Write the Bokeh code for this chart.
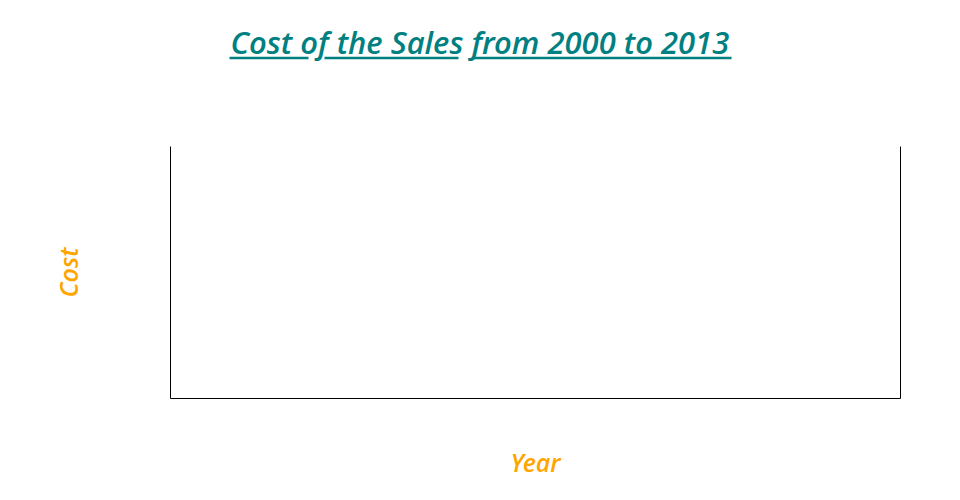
from bokeh.plotting import figure
from bokeh.models import LinearAxis, FixedTicker, ColumnDataSource, Range1d
from bokeh.core.properties import value
from bokeh.layouts import column
from bokeh.embed import file_html
from bokeh.resources import INLINE

# The reference chart contains no data marks: empty series
years = []
cost = []

title_text = "Cost of the Sales from 2000 to 2013"
x_label = "Year"
y_label = "Cost"

TEAL = "#008080"
ORANGE = "#FFA500"
FONT = "Open Sans SemiBold"

BORDER_L, BORDER_R = 170, 44
WIDTH = 944

# ---- title band (its own small svg figure, so the underline can be drawn) ----
# its x range is in page pixels so that it lines up with the plot below
tp = figure(width=WIDTH, height=100, output_backend="svg", toolbar_location=None,
            x_range=Range1d(BORDER_L, WIDTH - BORDER_R), y_range=Range1d(100, 0),
            x_axis_location=None, y_axis_location=None,
            min_border_left=BORDER_L, min_border_right=BORDER_R,
            min_border_top=0, min_border_bottom=0)
tp.outline_line_color = None
tp.grid.visible = False
tp.text(x=[230], y=[41], text=[title_text], text_font=value(FONT), text_font_style="italic",
        text_font_size="31px", text_color=TEAL, text_align="left", text_baseline="alphabetic")
# underline with gaps where the two "f" descenders cross it
tp.segment(x0=[229, 324, 473], y0=[57.5] * 3, x1=[308, 458, 731], y1=[57.5] * 3,
           line_color=TEAL, line_width=2.5, line_cap="butt")

# ---- main (empty) plot ----
src = ColumnDataSource(data=dict(year=years, cost=cost))

p = figure(width=WIDTH, height=384, output_backend="svg", toolbar_location=None,
           x_range=Range1d(2000, 2013), y_range=Range1d(0, 1),
           min_border_left=BORDER_L, min_border_right=BORDER_R,
           min_border_top=46, min_border_bottom=86)
p.line(x="year", y="cost", source=src, line_color=TEAL)

p.outline_line_color = None
p.grid.visible = False

for ax in [p.xaxis[0], p.yaxis[0]]:
    ax.ticker = FixedTicker(ticks=[])
    ax.major_tick_line_color = None
    ax.minor_tick_line_color = None
    ax.major_label_text_font_size = "0px"
    ax.axis_line_color = "black"
    ax.axis_label_text_font = FONT
    ax.axis_label_text_font_style = "italic"
    ax.axis_label_text_font_size = "25px"
    ax.axis_label_text_color = ORANGE

p.xaxis[0].axis_label = x_label
p.xaxis[0].axis_label_standoff = 46
p.yaxis[0].axis_label = y_label
p.yaxis[0].axis_label_standoff = 86

right = LinearAxis(ticker=FixedTicker(ticks=[]), major_tick_line_color=None,
                   minor_tick_line_color=None, major_label_text_font_size="0px",
                   axis_line_color="black")
p.add_layout(right, "right")

layout = column(tp, p, spacing=0)
open("out.html", "w").write(file_html(layout, INLINE))
